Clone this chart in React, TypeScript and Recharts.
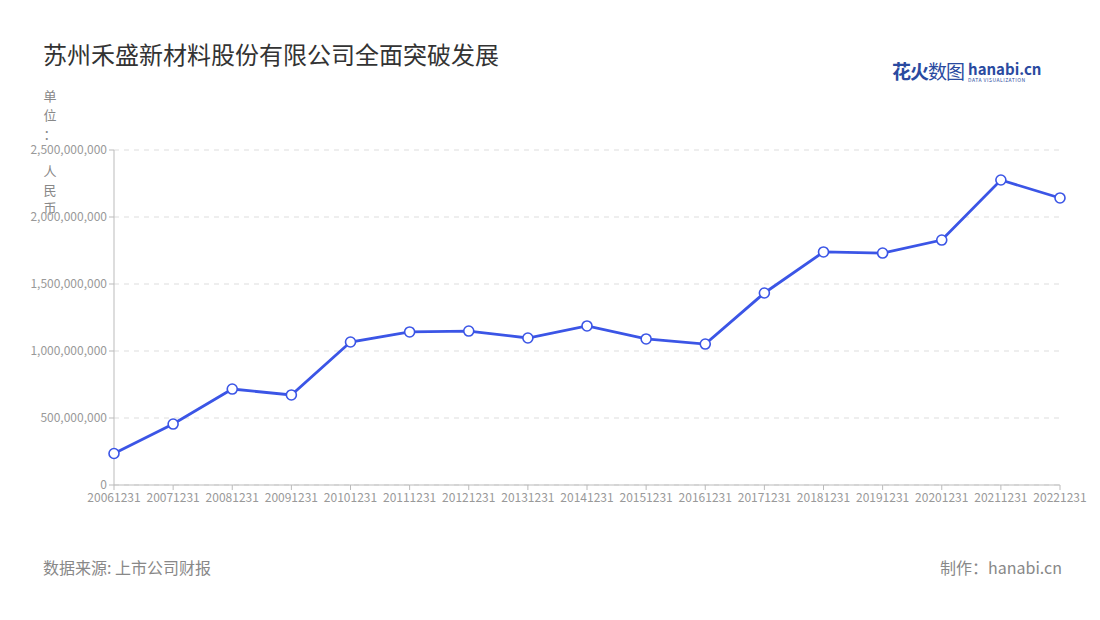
import { LineChart, Line, XAxis, YAxis, CartesianGrid } from "recharts";

const years = ["20061231","20071231","20081231","20091231","20101231","20111231","20121231","20131231","20141231","20151231","20161231","20171231","20181231","20191231","20201231","20211231","20221231"];
const revenue = [235000000, 455000000, 716000000, 672000000, 1067000000, 1142000000, 1149000000, 1097000000, 1187000000, 1090000000, 1052000000, 1433000000, 1739000000, 1731000000, 1828000000, 2276000000, 2142000000];
const yTicks = [0, 500000000, 1000000000, 1500000000, 2000000000, 2500000000];
const unitChars = [["单", 86], ["位", 105], ["：", 124], ["人", 161], ["民", 180], ["币", 198]];

const data = years.map((y, i) => ({ year: y, value: revenue[i] }));

const font = "'Noto Sans CJK SC', 'Noto Sans', sans-serif";

export default function App() {
    const fmt = (v: number) => v.toLocaleString("en-US");
    return (
        <div style={{ position: "absolute", left: 0, top: 0, width: 1100, height: 620, background: "#fff", fontFamily: font }}>
            <div style={{ position: "absolute", left: 43, top: 37, fontSize: 24, lineHeight: "34px", color: "#333" }}>苏州禾盛新材料股份有限公司全面突破发展</div>
            <div style={{ position: "absolute", left: 892, top: 59, display: "flex", alignItems: "flex-start" }}>
                <span style={{ fontSize: 19, lineHeight: "24px", fontWeight: 700, color: "#2a4aa0", letterSpacing: -1 }}>花火<span style={{ fontWeight: 400 }}>数图</span></span>
                <div style={{ marginLeft: 4, marginTop: 2 }}>
                    <div style={{ fontSize: 15, height: 16, lineHeight: "16px", fontWeight: 700, color: "#2a4aa0" }}>hanabi.cn</div>
                    <div style={{ fontSize: 5, height: 6, lineHeight: "6px", color: "#2a4aa0", letterSpacing: 0.5 }}>DATA VISUALIZATION</div>
                </div>
            </div>
            {unitChars.map(([c, t]) => (
                <div key={c as string} style={{ position: "absolute", left: 43, top: t as number, width: 14, textAlign: "center", fontSize: 13, color: "#888" }}>{c}</div>
            ))}
            <LineChart width={1100} height={620} data={data} margin={{ top: 150, right: 40, bottom: 105, left: 14 }}>
                <CartesianGrid stroke="#dddddd" strokeDasharray="5 5" vertical={false} />
                <XAxis dataKey="year" interval={0} height={30} stroke="#bbb" tickSize={5}
                    tick={{ fill: "#999", fontSize: 12, fontFamily: font }} tickMargin={3} />
                <YAxis width={100} ticks={yTicks} domain={[0, 2500000000]} tickFormatter={fmt} stroke="#bbb" tickSize={5}
                    tick={{ fill: "#999", fontSize: 12, fontFamily: font }} tickMargin={2} />
                <Line dataKey="value" type="linear" stroke="#3b55e6" strokeWidth={2.8} isAnimationActive={false}
                    dot={{ r: 5, fill: "#fff", stroke: "#3b55e6", strokeWidth: 1.6 }} />
            </LineChart>
            <div style={{ position: "absolute", left: 43, top: 555, fontSize: 16, color: "#888" }}>数据来源: 上市公司财报</div>
            <div style={{ position: "absolute", right: 38, top: 555, fontSize: 16, color: "#888" }}>制作：hanabi.cn</div>
        </div>
    );
}
